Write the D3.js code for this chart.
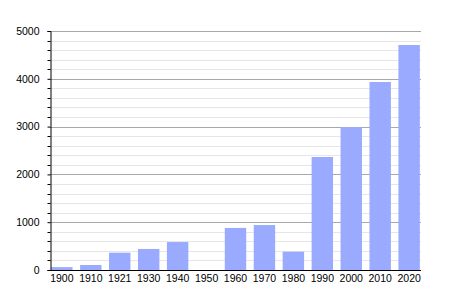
<!DOCTYPE html>
<html>
<head>
<meta charset="utf-8">
<script src="https://cdn.jsdelivr.net/npm/d3@7"></script>
<style>
  body { margin: 0; background: #fff; }
  svg text { font-family: "Liberation Sans", Arial, sans-serif; font-size: 10.5px; fill: #000; }
</style>
</head>
<body>
<div id="chart"></div>
<script>
// population by census year (1950 has no figure)
var years = ["1900", "1910", "1921", "1930", "1940", "1950", "1960", "1970", "1980", "1990", "2000", "2010", "2020"];
var population = [60, 105, 362, 440, 585, null, 880, 940, 383, 2364, 2992, 3933, 4707];
var majorTicks = [0, 1000, 2000, 3000, 4000, 5000];
var minorTicks = d3.range(0, 5001, 200);

var width = 450, height = 300;
var plotLeft = 50, plotRight = 421, plotTop = 31, plotBottom = 270;

var svg = d3.select("#chart").append("svg")
    .attr("width", width)
    .attr("height", height);

var x = d3.scaleBand()
    .domain(years)
    .range([plotLeft, plotRight])
    .paddingInner(0.26)
    .paddingOuter(0.04);

var y = d3.scaleLinear()
    .domain([0, 5000])
    .range([plotBottom, plotTop]);

// minor gridlines
svg.append("g").selectAll("line")
    .data(minorTicks.filter(d => d % 1000 !== 0))
    .enter().append("line")
    .attr("x1", plotLeft).attr("x2", plotRight)
    .attr("y1", d => Math.round(y(d)) + 0.5)
    .attr("y2", d => Math.round(y(d)) + 0.5)
    .attr("stroke", "#e6e6e6");

// major gridlines
svg.append("g").selectAll("line")
    .data(majorTicks.filter(d => d > 0))
    .enter().append("line")
    .attr("x1", plotLeft).attr("x2", plotRight)
    .attr("y1", d => Math.round(y(d)) + 0.5)
    .attr("y2", d => Math.round(y(d)) + 0.5)
    .attr("stroke", "#a8a8a8");

// bars
svg.append("g").selectAll("rect")
    .data(years.map((yr, i) => ({year: yr, value: population[i]})).filter(d => d.value != null))
    .enter().append("rect")
    .attr("x", d => x(d.year))
    .attr("width", x.bandwidth())
    .attr("y", d => y(d.value))
    .attr("height", d => y(0) - y(d.value))
    .attr("fill", "#99aaff");

// y axis with minor ticks
var yAxis = d3.axisLeft(y).tickValues(majorTicks).tickFormat(d3.format("d")).tickSize(3).tickPadding(8);
var yg = svg.append("g")
    .attr("transform", "translate(" + (plotLeft + 0.5) + ",0)")
    .call(yAxis);
yg.select(".domain").attr("stroke", "#000");
yg.selectAll(".tick line").attr("stroke", "#000");

svg.append("g").selectAll("line")
    .data(minorTicks.filter(d => d % 1000 !== 0))
    .enter().append("line")
    .attr("x1", plotLeft - 2.5).attr("x2", plotLeft + 0.5)
    .attr("y1", d => Math.round(y(d)) + 0.5)
    .attr("y2", d => Math.round(y(d)) + 0.5)
    .attr("stroke", "#000");

// x axis
var xAxis = d3.axisBottom(x).tickSize(0).tickPadding(4);
var xg = svg.append("g")
    .attr("transform", "translate(0," + (plotBottom + 0.5) + ")")
    .call(xAxis);
xg.select(".domain").attr("stroke", "#000").attr("d", "M" + plotLeft + ",0H" + plotRight);
</script>
</body>
</html>
